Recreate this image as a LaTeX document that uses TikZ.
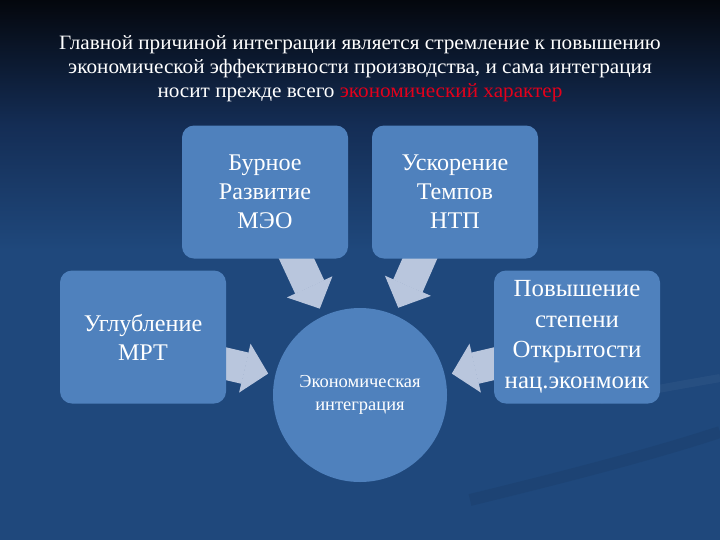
\documentclass[tikz,border=0pt]{standalone}
\usepackage{fontspec}
\setmainfont{Liberation Serif}
\newfontfamily\titlefont[FakeStretch=1.04]{Liberation Serif}
\newfontfamily\boxfont[FakeStretch=1.01]{Liberation Serif}
\usetikzlibrary{arrows.meta}

\newlength{\du}
\setlength{\du}{0.025cm}

\pgfdeclarelayer{backdrop}
\pgfdeclarelayer{links}
\pgfsetlayers{backdrop,links,main}

\definecolor{boxblue}{HTML}{4F81BD}
\definecolor{arrowgray}{HTML}{B9C6DD}
\definecolor{bgtop}{HTML}{04070D}
\definecolor{bgmid}{HTML}{142D55}
\definecolor{bgbottom}{HTML}{1F487C}
\definecolor{titlered}{HTML}{E3001B}

\tikzset{
  factorbox/.style={rectangle, rounded corners=12\du, fill=boxblue,
    minimum width=166\du, minimum height=133\du, inner sep=0pt,
    text=white, align=center, font=\boxfont\fontsize{17}{20.6}\selectfont},
  integcircle/.style={circle, fill=boxblue, minimum size=174\du, inner sep=0pt,
    text=white, align=center, font=\boxfont\fontsize{13}{16.4}\selectfont},
  % 32/50/24 du = 0.8/1.25/0.6 cm
  blockarrow/.style={draw=arrowgray, line width=0.8cm,
    -{Triangle[width=1.25cm,length=0.6cm,line width=0.8pt]}},
}

\begin{document}
\begin{tikzpicture}
\pgftransformyscale{-1.000000}
\useasboundingbox (0\du,0\du) rectangle (720\du,540\du);
% background
\begin{pgfonlayer}{backdrop}
\fill[bgbottom] (0\du,0\du) rectangle (720\du,540\du);
\shade[top color=bgtop, bottom color=bgbottom, middle color=bgmid]
  (0\du,0\du) rectangle (720\du,250\du);
\draw[black, opacity=0.06, line width=12\du]
  (470\du,500\du) .. controls (560\du,478\du) and (650\du,455\du) .. (720\du,432\du);
\draw[white, opacity=0.04, line width=8\du]
  (600\du,400\du) .. controls (640\du,392\du) and (680\du,385\du) .. (720\du,378\du);
\end{pgfonlayer}
% title
\node[text=white, align=center, font=\titlefont\fontsize{14.5}{17.2}\selectfont]
  (title) at (360\du,69\du)
  {Главной причиной интеграции является стремление к повышению\\
   экономической эффективности производства, и сама интеграция\\
   носит прежде всего \textcolor{titlered}{экономический характер}};
% factors
\node[factorbox] (mxo) at (265\du,192\du) {Бурное\\Развитие\\МЭО};
\node[factorbox] (ntp) at (455\du,192\du) {Ускорение\\Темпов\\НТП};
\node[factorbox] (mrt) at (143\du,337\du) {Углубление\\МРТ};
\node[factorbox, font=\boxfont\fontsize{17.5}{21.7}\selectfont] (open) at (577\du,337\du)
  {Повышение\\степени\\Открытости\\нац.эконмоик};
\node[integcircle] (integ) at (360\du,395\du) {Экономическая\\интеграция};
% arrows, tucked under the boxes
\begin{pgfonlayer}{links}
\draw[blockarrow, shorten >=0.2cm] ([xshift=26\du,yshift=-12\du]mxo.south) -- (integ);
\draw[blockarrow, shorten >=0.2cm] ([xshift=-30\du,yshift=-12\du]ntp.south) -- (integ);
\draw[blockarrow, shorten >=0.175cm] ([xshift=-12\du,yshift=24\du]mrt.east) -- (integ);
\draw[blockarrow, shorten >=0.175cm] ([xshift=12\du,yshift=24\du]open.west) -- (integ);
\end{pgfonlayer}
\end{tikzpicture}
\end{document}
